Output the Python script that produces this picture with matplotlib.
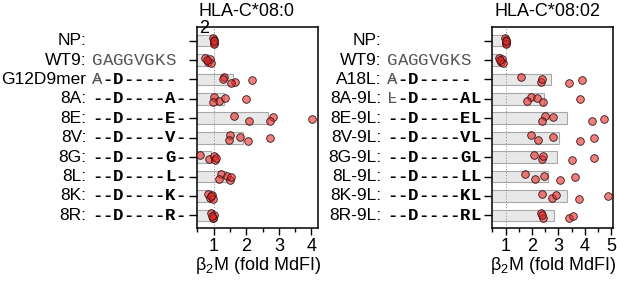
import numpy as np
import matplotlib.pyplot as plt
from matplotlib import transforms
from matplotlib.ticker import MultipleLocator

plt.rcParams['font.family'] = ['Liberation Sans', 'DejaVu Sans']

# --- datos ---
left_names = ["NP:", "WT9:", "G12D9mer", "8A:", "8E:", "8V:", "8G:", "8L:", "8K:", "8R:"]
left_seqs = ["", "GAGGVGKS", "/A-D-----", "--D----A-", "--D----E-", "--D----V-",
             "--D----G-", "--D----L-", "--D----K-", "--D----R-"]
left_vals = [
    [0.99, 1.0, 1.01, 1.0, 1.0],
    [0.75, 0.82, 0.88, 0.92, 0.80],
    [1.31, 1.67, 1.28, 1.53, 2.18],
    [1.02, 1.18, 1.36, 0.98, 1.99],
    [1.61, 2.07, 2.82, 2.74, 4.02],
    [1.51, 1.48, 1.82, 2.04, 2.72],
    [0.59, 0.87, 1.00, 1.05, 1.08],
    [1.24, 1.18, 1.41, 1.49, 1.53],
    [0.82, 0.90, 0.95, 0.98, 0.92],
    [0.93, 0.97, 1.00, 0.98, 0.95],
]

right_names = ["NP:", "WT9:", "A18L:", "8A-9L:", "8E-9L:", "8V-9L:", "8G-9L:",
               "8L-9L:", "8K-9L:", "8R-9L:"]
right_seqs = ["", "GAGGVGKS", "/A-D-----", "/L-D----AL", "--D----EL", "--D----VL",
              "--D----GL", "--D----LL", "--D----KL", "--D----RL"]
right_vals = [
    [0.99, 1.0, 1.01, 1.0, 1.0],
    [0.75, 0.82, 0.87, 0.91, 0.79],
    [1.60, 2.33, 2.38, 3.39, 3.89],
    [1.96, 1.82, 2.19, 2.42, 3.81],
    [2.48, 2.38, 2.80, 4.25, 4.71],
    [1.96, 2.23, 2.80, 3.83, 4.35],
    [2.08, 2.38, 2.42, 3.53, 4.35],
    [1.73, 2.13, 2.46, 3.05, 3.64],
    [2.38, 2.74, 2.89, 3.78, 4.87],
    [2.33, 2.42, 2.38, 3.40, 3.55],
]

# desplazamiento vertical fijo de los puntos (solo estetica)
jitter = [-0.12, 0.12, -0.04, 0.16, 0.02]

fig = plt.figure(figsize=(6.17, 2.82), dpi=100)
W, H = 617, 282

ax_l = fig.add_axes([197.3 / W, 1 - 228 / H, (318 - 197.3) / W, 201 / H])
ax_r = fig.add_axes([492.3 / W, 1 - 228 / H, (612.7 - 492.3) / W, 201 / H])

MONO = 12.5


def draw_panel(ax, names, seqs, vals, xmax, xticks):
    n = len(names)
    rows = np.arange(n)
    means = [np.mean(v) for v in vals]
    ax.barh(rows, means, left=0, height=0.6, color='#e8e8e8', edgecolor='#a8a8a8',
            linewidth=0.8, zorder=1)
    ax.axvline(1, color='#888888', lw=0.7, ls=(0, (1, 2)), zorder=2)
    for i, v in enumerate(vals):
        ys = i + np.array(jitter[:len(v)])
        ax.scatter(v, ys, s=30, facecolor=(0.90, 0.17, 0.17, 0.6),
                   edgecolor='#3a1010', linewidth=0.6, zorder=3, clip_on=False)
    ax.set_xlim(0.5, xmax)
    ax.set_ylim(9.65, -0.7)
    ax.set_xticks(xticks)
    ax.xaxis.set_minor_locator(MultipleLocator(0.5))
    ax.set_yticks(rows)
    ax.set_yticklabels([])
    ax.tick_params(axis='x', which='major', length=5, width=1, labelsize=13, pad=2)
    ax.tick_params(axis='x', which='minor', length=3, width=1)
    ax.tick_params(axis='y', length=6, width=1)
    for sp in ax.spines.values():
        sp.set_linewidth(1.1)
    ax.set_xlabel(r'$\mathregular{\beta_2}$M (fold MdFI)', fontsize=13, labelpad=0)

    base = ax.get_yaxis_transform()
    name_tr = base + transforms.ScaledTranslation(-111 / 100, 0, fig.dpi_scale_trans)
    for i, nm in enumerate(names):
        ax.text(0, i, nm, transform=name_tr, ha='right', va='center', fontsize=12.5)
    step = 10.4
    for i, s in enumerate(seqs):
        wt = s.startswith('G')
        pos = 0
        k = 0
        while k < len(s):
            ch = s[k]
            struck = False
            if ch == '/':
                struck = True
                k += 1
                ch = s[k]
            tr = base + transforms.ScaledTranslation((-100 + pos * step) / 100, 0,
                                                     fig.dpi_scale_trans)
            if wt or struck:
                ax.text(0, i, ch, transform=tr, ha='center', va='center',
                        family='Liberation Mono', fontsize=MONO, color='#555555')
                if struck:
                    ax.text(0, i, '-', transform=tr, ha='center', va='center',
                            family='Liberation Mono', fontsize=MONO, color='#555555')
            else:
                ax.text(0, i, ch, transform=tr, ha='center', va='center',
                        family='Liberation Mono', fontsize=MONO, weight='bold',
                        color='black')
            pos += 1
            k += 1


draw_panel(ax_l, left_names, left_seqs, left_vals, 4.2, [1, 2, 3, 4])
draw_panel(ax_r, right_names, right_seqs, right_vals, 5.05, [1, 2, 3, 4, 5])

fig.text(199 / W, 1 - 16 / H, 'HLA-C*08:0', ha='left', va='baseline', fontsize=13)
fig.text(199 / W, 1 - 33 / H, '2', ha='left', va='baseline', fontsize=13)
fig.text(548 / W, 1 - 16 / H, 'HLA-C*08:02', ha='center', va='baseline', fontsize=13)

fig.savefig('out.png', dpi=100)
